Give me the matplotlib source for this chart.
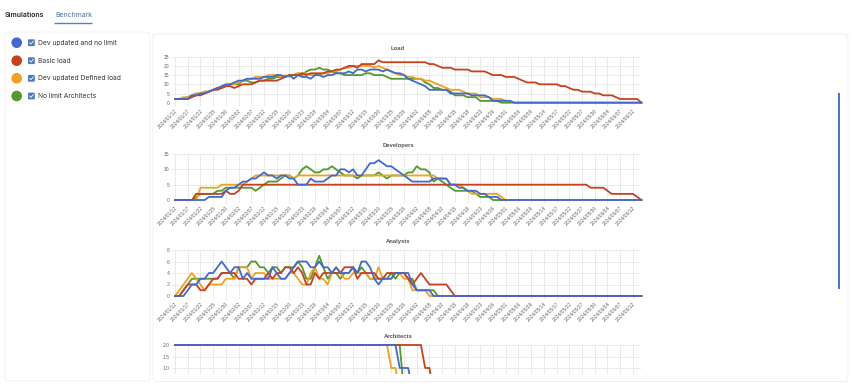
import numpy as np
import pandas as pd
import matplotlib
matplotlib.use("Agg")
import matplotlib.pyplot as plt
from matplotlib.patches import Rectangle, Circle, FancyBboxPatch

# business days shown on the x axis, a label every 3rd day
dates = pd.bdate_range("2024-01-12", "2024-06-14")
tick_idx = list(range(0, len(dates), 3))
tick_labels = [dates[i].strftime("%Y/%m/%d") for i in tick_idx]

names = ["Dev updated and no limit", "Basic load", "Dev updated Defined load", "No limit Architects"]
colors = ["#4169d1", "#c9401c", "#f0a11e", "#519a2b"]

# ---- Load
load_blue = [2, 2, 2, 2, 4, 4, 5, 5, 6, 7,   8, 9, 10, 10, 11, 12, 12, 13, 13, 13,
             13, 14, 14, 14, 15, 15, 14, 15, 13, 15,   14, 14, 13, 15, 15, 14, 15, 15, 16, 16,
             16, 17, 16, 18, 18, 17, 18, 18, 18, 17,   18, 17, 16, 16, 15, 13, 12, 11, 10, 9,
             7, 7, 7, 7, 7, 5, 5, 5, 5, 5,   4, 4, 4, 4, 3, 1, 1, 1, 1, 1,
             0, 0, 0, 0, 0, 0, 0, 0, 0, 0,   0, 0, 0, 0, 0, 0, 0, 0, 0, 0,
             0, 0, 0, 0, 0, 0, 0, 0, 0, 0, 0]
load_red = [2, 2, 2, 2, 3, 4, 4, 5, 6, 7,   7, 8, 9, 9, 8, 9, 10, 10, 10, 11,
            12, 12, 12, 12, 12, 13, 14, 15, 15, 15,   16, 15, 16, 16, 16, 16, 17, 17, 18, 18,
            19, 20, 20, 19, 21, 21, 21, 21, 23, 22,   22, 22, 22, 22, 22, 22, 22, 22, 22, 22,
            21, 21, 20, 19, 19, 19, 18, 18, 18, 18,   17, 17, 17, 17, 16, 15, 15, 15, 14, 14,
            14, 13, 12, 11, 11, 11, 10, 10, 10, 10,   10, 9, 9, 8, 7, 7, 6, 6, 6, 5,
            5, 4, 4, 4, 3, 2, 2, 2, 2, 2, 0]
load_orange = [2, 2, 3, 3, 4, 5, 5, 6, 6, 7,   8, 8, 9, 10, 10, 11, 12, 13, 13, 14,
               14, 14, 15, 15, 15, 14, 15, 14, 15, 16,   16, 16, 15, 15, 15, 16, 16, 17, 17, 18,
               19, 19, 20, 20, 20, 20, 20, 19, 20, 19,   18, 17, 16, 15, 15, 14, 14, 13, 13, 12,
               12, 11, 10, 9, 8, 7, 7, 7, 6, 5,   5, 5, 3, 3, 3, 2, 2, 2, 1, 1,
               0, 0, 0, 0, 0, 0, 0, 0, 0, 0,   0, 0, 0, 0, 0, 0, 0, 0, 0, 0,
               0, 0, 0, 0, 0, 0, 0, 0, 0, 0, 0]
load_green = [2, 2, 2, 3, 4, 5, 5, 6, 6, 7,   8, 8, 9, 10, 10, 10, 12, 12, 11, 11,
              12, 12, 13, 13, 14, 14, 14, 15, 15, 16,   15, 17, 18, 18, 19, 18, 18, 17, 16, 16,
              15, 15, 15, 15, 15, 16, 16, 15, 15, 15,   14, 13, 13, 13, 13, 13, 13, 13, 13, 11,
              10, 8, 8, 7, 7, 6, 4, 4, 4, 3,   3, 3, 1, 1, 1, 1, 1, 0, 0, 0,
              0, 0, 0, 0, 0, 0, 0, 0, 0, 0,   0, 0, 0, 0, 0, 0, 0, 0, 0, 0,
              0, 0, 0, 0, 0, 0, 0, 0, 0, 0, 0]

# ---- Developers
dev_blue = [0, 0, 0, 0, 0, 0, 0, 0, 1, 1,   1, 1, 3, 4, 4, 5, 6, 6, 7, 7,
            8, 9, 8, 8, 7, 8, 8, 7, 7, 5,   5, 5, 7, 6, 6, 6, 7, 8, 8, 10,
            10, 9, 10, 8, 8, 10, 12, 12, 13, 12,   11, 11, 10, 9, 8, 7, 6, 6, 6, 6,
            6, 7, 7, 7, 7, 5, 5, 4, 4, 3,   3, 3, 2, 2, 1, 1, 1, 0, 0, 0,
            0, 0, 0, 0, 0, 0, 0, 0, 0, 0,   0, 0, 0, 0, 0, 0, 0, 0, 0, 0,
            0, 0, 0, 0, 0, 0, 0, 0, 0, 0, 0]
dev_red = [0, 0, 0, 0, 0, 2, 2, 2, 2, 2,   2, 2, 3, 2, 2, 3, 5, 5, 5, 5,
           5, 5, 5, 5, 5, 5, 5, 5, 5, 5,   5, 5, 5, 5, 5, 5, 5, 5, 5, 5,
           5, 5, 5, 5, 5, 5, 5, 5, 5, 5,   5, 5, 5, 5, 5, 5, 5, 5, 5, 5,
           5, 5, 5, 5, 5, 5, 5, 5, 5, 5,   5, 5, 5, 5, 5, 5, 5, 5, 5, 5,
           5, 5, 5, 5, 5, 5, 5, 5, 5, 5,   5, 5, 5, 5, 5, 5, 5, 5, 4, 4,
           4, 4, 3, 2, 2, 2, 2, 2, 2, 1, 0]
dev_orange = [0, 0, 0, 0, 0, 0, 4, 4, 4, 4,   4, 5, 5, 5, 5, 5, 5, 6, 7, 8,
              8, 8, 8, 8, 8, 8, 8, 8, 7, 8,   8, 8, 8, 8, 8, 8, 8, 8, 8, 8,
              8, 8, 8, 8, 8, 8, 8, 8, 8, 8,   8, 8, 8, 8, 8, 8, 8, 8, 8, 8,
              8, 8, 7, 7, 7, 5, 5, 5, 4, 3,   2, 2, 2, 2, 2, 2, 2, 1, 0, 0,
              0, 0, 0, 0, 0, 0, 0, 0, 0, 0,   0, 0, 0, 0, 0, 0, 0, 0, 0, 0,
              0, 0, 0, 0, 0, 0, 0, 0, 0, 0, 0]
dev_green = [0, 0, 0, 0, 0, 1, 2, 2, 2, 2,   3, 3, 4, 4, 4, 4, 4, 4, 4, 3,
             4, 5, 6, 6, 6, 7, 8, 8, 7, 8,   10, 11, 10, 9, 9, 10, 10, 11, 10, 9,
             8, 8, 8, 7, 8, 8, 8, 8, 9, 8,   7, 8, 8, 8, 8, 9, 9, 11, 10, 10,
             9, 6, 7, 6, 5, 4, 3, 3, 3, 3,   3, 2, 1, 1, 1, 0, 0, 0, 0, 0,
             0, 0, 0, 0, 0, 0, 0, 0, 0, 0,   0, 0, 0, 0, 0, 0, 0, 0, 0, 0,
             0, 0, 0, 0, 0, 0, 0, 0, 0, 0, 0]

# ---- Analysts
an_blue = [0, 0, 0, 1, 2, 2, 3, 3, 4, 4,   5, 6, 5, 4, 5, 5, 3, 4, 3, 3,
           3, 3, 3, 5, 4, 3, 3, 4, 5, 6,   6, 6, 5, 5, 6, 5, 5, 4, 5, 4,
           4, 4, 5, 4, 6, 6, 5, 3, 2, 3,   3, 3, 4, 4, 4, 4, 2, 1, 1, 1,
           1, 0, 0, 0, 0, 0, 0, 0, 0, 0,   0, 0, 0, 0, 0, 0, 0, 0, 0, 0,
           0, 0, 0, 0, 0, 0, 0, 0, 0, 0,   0, 0, 0, 0, 0, 0, 0, 0, 0, 0,
           0, 0, 0, 0, 0, 0, 0, 0, 0, 0, 0]
an_red = [0, 0, 1, 2, 2, 2, 1, 1, 2, 3,   3, 4, 4, 4, 4, 3, 3, 3, 2, 3,
          3, 3, 4, 3, 4, 4, 5, 5, 4, 5,   4, 2, 2, 4, 3, 4, 4, 4, 4, 4,
          5, 5, 5, 3, 4, 4, 4, 4, 3, 3,   4, 4, 4, 4, 4, 3, 2, 3, 4, 3,
          2, 2, 2, 2, 2, 1, 0, 0, 0, 0,   0, 0, 0, 0, 0, 0, 0, 0, 0, 0,
          0, 0, 0, 0, 0, 0, 0, 0, 0, 0,   0, 0, 0, 0, 0, 0, 0, 0, 0, 0,
          0, 0, 0, 0, 0, 0, 0, 0, 0, 0, 0]
an_orange = [0, 1, 2, 3, 4, 3, 2, 1, 2, 2,   2, 2, 3, 3, 3, 5, 5, 5, 3, 4,
             4, 4, 3, 3, 3, 3, 3, 4, 4, 3,   2, 2, 4, 5, 3, 3, 2, 4, 5, 4,
             3, 3, 4, 4, 4, 4, 3, 3, 5, 3,   3, 3, 4, 4, 3, 3, 1, 1, 1, 1,
             0, 0, 0, 0, 0, 0, 0, 0, 0, 0,   0, 0, 0, 0, 0, 0, 0, 0, 0, 0,
             0, 0, 0, 0, 0, 0, 0, 0, 0, 0,   0, 0, 0, 0, 0, 0, 0, 0, 0, 0,
             0, 0, 0, 0, 0, 0, 0, 0, 0, 0, 0]
an_green = [0, 0, 1, 2, 3, 3, 3, 3, 3, 3,   3, 4, 4, 4, 3, 5, 5, 5, 6, 6,
            5, 5, 4, 5, 5, 4, 5, 5, 5, 6,   5, 3, 3, 5, 7, 5, 3, 4, 4, 3,
            4, 4, 5, 4, 5, 4, 3, 3, 3, 3,   3, 4, 3, 4, 4, 3, 3, 1, 1, 1,
            1, 1, 0, 0, 0, 0, 0, 0, 0, 0,   0, 0, 0, 0, 0, 0, 0, 0, 0, 0,
            0, 0, 0, 0, 0, 0, 0, 0, 0, 0,   0, 0, 0, 0, 0, 0, 0, 0, 0, 0,
            0, 0, 0, 0, 0, 0, 0, 0, 0, 0, 0]

# ---- Architects
arch_blue = [2, 2, 2, 2, 2, 2, 2, 2, 2, 2,   2, 2, 2, 2, 2, 2, 2, 2, 2, 2,
             2, 2, 2, 2, 2, 2, 2, 2, 2, 2,   2, 2, 2, 2, 2, 2, 2, 2, 2, 2,
             2, 2, 2, 2, 2, 2, 2, 2, 2, 2,   2, 2, 2, 1, 1, 1, 0, 0, 0, 0,
             0, 0, 0, 0, 0, 0, 0, 0, 0, 0,   0, 0, 0, 0, 0, 0, 0, 0, 0, 0,
             0, 0, 0, 0, 0, 0, 0, 0, 0, 0,   0, 0, 0, 0, 0, 0, 0, 0, 0, 0,
             0, 0, 0, 0, 0, 0, 0, 0, 0, 0, 0]
arch_red = [2, 2, 2, 2, 2, 2, 2, 2, 2, 2,   2, 2, 2, 2, 2, 2, 2, 2, 2, 2,
            2, 2, 2, 2, 2, 2, 2, 2, 2, 2,   2, 2, 2, 2, 2, 2, 2, 2, 2, 2,
            2, 2, 2, 2, 2, 2, 2, 2, 2, 2,   2, 2, 2, 2, 2, 2, 2, 2, 2, 1,
            1, 0, 0, 0, 0, 0, 0, 0, 0, 0,   0, 0, 0, 0, 0, 0, 0, 0, 0, 0,
            0, 0, 0, 0, 0, 0, 0, 0, 0, 0,   0, 0, 0, 0, 0, 0, 0, 0, 0, 0,
            0, 0, 0, 0, 0, 0, 0, 0, 0, 0, 0]
arch_orange = [2, 2, 2, 2, 2, 2, 2, 2, 2, 2,   2, 2, 2, 2, 2, 2, 2, 2, 2, 2,
               2, 2, 2, 2, 2, 2, 2, 2, 2, 2,   2, 2, 2, 2, 2, 2, 2, 2, 2, 2,
               2, 2, 2, 2, 2, 2, 2, 2, 2, 2,   2, 1, 1, 0, 0, 0, 0, 0, 0, 0,
               0, 0, 0, 0, 0, 0, 0, 0, 0, 0,   0, 0, 0, 0, 0, 0, 0, 0, 0, 0,
               0, 0, 0, 0, 0, 0, 0, 0, 0, 0,   0, 0, 0, 0, 0, 0, 0, 0, 0, 0,
               0, 0, 0, 0, 0, 0, 0, 0, 0, 0, 0]
arch_green = [2, 2, 2, 2, 2, 2, 2, 2, 2, 2,   2, 2, 2, 2, 2, 2, 2, 2, 2, 2,
              2, 2, 2, 2, 2, 2, 2, 2, 2, 2,   2, 2, 2, 2, 2, 2, 2, 2, 2, 2,
              2, 2, 2, 2, 2, 2, 2, 2, 2, 2,   2, 2, 2, 2, 0, 0, 0, 0, 0, 0,
              0, 0, 0, 0, 0, 0, 0, 0, 0, 0,   0, 0, 0, 0, 0, 0, 0, 0, 0, 0,
              0, 0, 0, 0, 0, 0, 0, 0, 0, 0,   0, 0, 0, 0, 0, 0, 0, 0, 0, 0,
              0, 0, 0, 0, 0, 0, 0, 0, 0, 0, 0]

panels = [
    ("Load", [load_blue, load_red, load_orange, load_green], [0, 5, 10, 15, 20, 25], "{:d}"),
    ("Developers", [dev_blue, dev_red, dev_orange, dev_green], [0, 5, 10, 15], "{:d}"),
    ("Analysts", [an_blue, an_red, an_orange, an_green], [0, 2, 4, 6, 8], "{:d}"),
    ("Architects", [arch_blue, arch_red, arch_orange, arch_green], [0, 0.5, 1.0, 1.5, 2.0], "{:.1f}"),
]
for _, ser, _, _ in panels:
    for s in ser:
        assert len(s) == len(dates), len(s)

W, H = 854, 387
fig = plt.figure(figsize=(W / 100, H / 100), dpi=100)
fig.patch.set_facecolor("white")

def px_rect(left, top, right, bottom):
    return [left / W, 1 - bottom / H, (right - left) / W, (bottom - top) / H]

# page / UI layer in pixel coordinates
ui = fig.add_axes([0, 0, 1, 1], zorder=-1)
ui.set_xlim(0, W)
ui.set_ylim(H, 0)
ui.axis("off")

ui_font = ["Inter", "DejaVu Sans"]
ui.text(5, 15, "Simulations", fontsize=5, fontweight="semibold", color="#222222",
        va="center", ha="left", family=ui_font)
ui.text(55, 15, "Benchmark", fontsize=5, color="#4d6fae", va="center", ha="left", family=ui_font)
ui.plot([54, 92], [22.5, 22.5], color="#5b7fc0", lw=1.0, solid_capstyle="butt")

# cards
ui.add_patch(FancyBboxPatch((5, 32), 145, 349, boxstyle="round,pad=0,rounding_size=4",
                            fc="white", ec="#f0f0f0", lw=0.6))
ui.add_patch(FancyBboxPatch((153, 34), 695, 347, boxstyle="round,pad=0,rounding_size=4",
                            fc="white", ec="#ececec", lw=0.6))

# legend rows
legend_y = [42.7, 60.7, 78.3, 96.0]
for name, c, y in zip(names, colors, legend_y):
    ui.add_patch(Circle((16.7, y), 4.6, color=c))
    ui.add_patch(FancyBboxPatch((28, y - 3.4), 6.8, 6.8, boxstyle="round,pad=0,rounding_size=1",
                                fc="#4a78c2", ec="none"))
    ui.plot([29.6, 31.0, 33.3], [y, y + 1.4, y - 1.5], color="white", lw=0.6)
    ui.text(37.7, y, name, fontsize=4.8, color="#333333", va="center", ha="left", family=ui_font)

# chart panels
chart_font = ["Liberation Sans", "DejaVu Sans"]
left, right = 175, 641.4
tops = [56.7, 154.0, 250.0, 345.0]
grid_c = "#e6e6e6"
draw_order = [3, 2, 1, 0]  # blue drawn last, on top
for n, ((title, ser, yt, fmt), top) in enumerate(zip(panels, tops)):
    bottom = top + 46
    ax = fig.add_axes(px_rect(left, top, right, bottom))
    ax.set_facecolor("none")
    for k in draw_order:
        ax.plot(np.arange(len(dates)), ser[k], color=colors[k], lw=1.3, clip_on=False,
                solid_joinstyle="round", zorder=3 + (3 - k))
    ax.set_xlim(0, len(dates) - 1)
    ax.set_ylim(yt[0], yt[-1])
    ax.set_yticks(yt)
    ax.set_yticklabels([fmt.format(v) for v in yt])
    ax.set_xticks(tick_idx)
    ax.set_xticklabels(tick_labels, rotation=45, ha="right", rotation_mode="anchor")
    ax.grid(True, color=grid_c, lw=0.6)
    for sp in ax.spines.values():
        sp.set_visible(False)
    ax.tick_params(length=2.5, width=0.6, color=grid_c, labelcolor="#666666", labelsize=3.6, pad=1.5)
    for lab in ax.get_xticklabels() + ax.get_yticklabels():
        lab.set_family(chart_font)
    if n == 3:
        # the last chart is scrolled: its lower part and its dates are out of view
        ax.tick_params(axis="x", labelbottom=False)
        ax.set_yticks([1.0, 1.5, 2.0])
        ax.set_yticklabels(["1.0", "1.5", "2.0"])
    fig.text(398 / W, 1 - (top - 8.5) / H, title, fontsize=4.2, fontweight="bold", color="#555555",
             ha="center", va="center", family=chart_font)

# hide what falls below the visible part of the scrolled area
fig.add_artist(Rectangle((154 / W, 0), 692 / W, (H - 374) / H, transform=fig.transFigure,
                         fc="white", ec="none", zorder=20))
fig.add_artist(plt.Line2D([154 / W, 846 / W], [1 - 381 / H] * 2, transform=fig.transFigure,
                          color="#ececec", lw=0.6, zorder=21))
# scrollbar
fig.add_artist(Rectangle((837.6 / W, 1 - 289 / H), 2.6 / W, 196 / H, transform=fig.transFigure,
                         fc="#4b74c4", ec="none", zorder=21))

fig.savefig("out.png", dpi=100, facecolor="white")
